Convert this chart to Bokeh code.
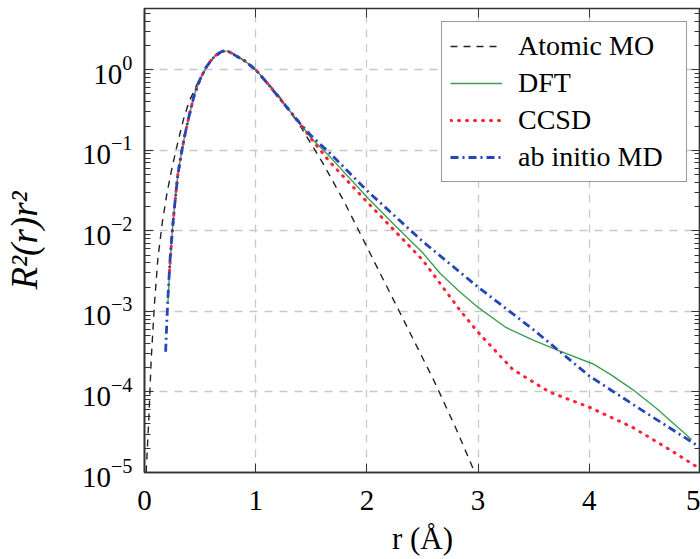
from bokeh.plotting import figure
from bokeh.models import Range1d, FixedTicker, LogAxis, LinearAxis, Legend, LegendItem
from bokeh.embed import file_html
from bokeh.resources import INLINE

# ---- data ----
atomic_r = [0.015, 0.04, 0.06, 0.09, 0.12, 0.16, 0.2, 0.25, 0.3, 0.35, 0.4, 0.45, 0.5, 0.6,
            0.7, 0.75, 0.8, 0.9, 1.0, 1.2, 1.4, 1.6, 1.8, 2.0, 2.2, 2.4, 2.6, 2.8, 2.97]
atomic_y = [1.0e-5, 5.0e-5, 2.5e-4, 1.26e-3, 4.47e-3, 1.26e-2, 2.82e-2, 6.31e-2, 0.126, 0.24,
            0.398, 0.562, 0.794, 1.29, 1.68, 1.70, 1.58, 1.29, 1.0, 0.49, 0.2, 0.0708, 0.0224,
            6.31e-3, 1.78e-3, 5.01e-4, 1.41e-4, 3.55e-5, 1.0e-5]

dft_r = [0.21, 0.23, 0.25, 0.27, 0.3, 0.33, 0.36, 0.4, 0.45, 0.5, 0.55, 0.6, 0.65, 0.7, 0.75,
         0.8, 0.9, 1.0, 1.1, 1.2, 1.3, 1.4, 1.5, 1.67, 2.0, 2.25, 2.5, 2.66, 2.83, 3.0, 3.25,
         3.5, 3.73, 4.03, 4.2, 4.39, 4.6, 4.92]
dft_y = [1.26e-3, 3.98e-3, 1.0e-2, 2.0e-2, 5.01e-2, 8.91e-2, 0.148, 0.263, 0.501, 0.759, 1.05,
         1.32, 1.55, 1.70, 1.70, 1.55, 1.29, 1.0, 0.692, 0.468, 0.316, 0.214, 0.141, 8.22e-2,
         2.63e-2, 1.17e-2, 5.37e-3, 2.95e-3, 1.78e-3, 1.12e-3, 6.31e-4, 4.37e-4, 3.24e-4,
         2.24e-4, 1.62e-4, 1.07e-4, 6.31e-5, 2.57e-5]

ccsd_r = [0.225, 0.24, 0.25, 0.27, 0.3, 0.33, 0.36, 0.4, 0.45, 0.5, 0.55, 0.6, 0.65, 0.7, 0.75,
          0.8, 0.9, 1.0, 1.1, 1.2, 1.3, 1.4, 1.5, 1.67, 2.0, 2.25, 2.5, 2.84, 3.0, 3.31, 3.64,
          4.0, 4.39, 4.74, 5.0]
ccsd_y = [3.16e-3, 6.31e-3, 1.0e-2, 2.0e-2, 5.01e-2, 8.91e-2, 0.148, 0.263, 0.501, 0.759, 1.05,
          1.32, 1.55, 1.70, 1.70, 1.55, 1.29, 1.0, 0.692, 0.468, 0.316, 0.214, 0.138, 7.08e-2,
          2.29e-2, 1.0e-2, 4.37e-3, 1.02e-3, 5.5e-4, 1.91e-4, 1.0e-4, 6.46e-5, 3.63e-5,
          1.86e-5, 1.1e-5]

md_r = [0.19, 0.2, 0.21, 0.23, 0.25, 0.27, 0.3, 0.33, 0.36, 0.4, 0.45, 0.5, 0.55, 0.6, 0.65,
        0.7, 0.75, 0.8, 0.9, 1.0, 1.1, 1.2, 1.3, 1.4, 1.5, 1.67, 2.0, 2.5, 3.0, 3.5, 4.0, 4.5, 5.0]
md_y = [3.16e-4, 7.08e-4, 1.41e-3, 4.47e-3, 1.0e-2, 2.0e-2, 5.01e-2, 8.91e-2, 0.148, 0.263,
        0.501, 0.759, 1.05, 1.32, 1.55, 1.70, 1.70, 1.55, 1.29, 1.0, 0.692, 0.468, 0.316, 0.214,
        0.151, 9.12e-2, 3.16e-2, 7.41e-3, 2.0e-3, 5.89e-4, 1.58e-4, 5.62e-5, 2.04e-5]

series_labels = ["Atomic MO", "DFT", "CCSD", "ab initio MD"]
x_ticks = [0, 1, 2, 3, 4, 5]
y_ticks = [1e-5, 1e-4, 1e-3, 1e-2, 1e-1, 1e0]
y_minor = [m * 10.0 ** k for k in range(-5, 1) for m in range(2, 10) if m * 10.0 ** k < 5.75]

FONT = "Liberation Serif"
AX = "#333333"

p = figure(width=700, height=559, y_axis_type="log",
           x_range=Range1d(0, 5), y_range=Range1d(1e-5, 5.75),
           output_backend="svg", toolbar_location=None,
           min_border_left=143, min_border_right=0, min_border_top=8, min_border_bottom=87,
           background_fill_color="white", border_fill_color="white")

p.outline_line_color = AX
p.outline_line_width = 1.6

xt = FixedTicker(ticks=x_ticks)
yt = FixedTicker(ticks=y_ticks, minor_ticks=y_minor)

for ax in p.xaxis:
    ax.ticker = xt
    ax.major_tick_in = 9
    ax.major_tick_out = 0
    ax.minor_tick_in = 0
    ax.minor_tick_out = 0
    ax.axis_line_color = AX
    ax.axis_line_width = 1.6
    ax.major_tick_line_color = AX
    ax.major_label_text_font = FONT
    ax.major_label_text_font_size = "29px"
    ax.major_label_text_color = "black"
    ax.major_label_standoff = 18
    ax.axis_label = "r (Å)"
    ax.axis_label_text_font = FONT
    ax.axis_label_text_font_size = "31px"
    ax.axis_label_text_font_style = "normal"
    ax.axis_label_text_color = "black"
    ax.axis_label_standoff = 8

for ax in p.yaxis:
    ax.ticker = yt
    ax.major_tick_in = 9
    ax.major_tick_out = 0
    ax.minor_tick_in = 6
    ax.minor_tick_out = 0
    ax.axis_line_color = AX
    ax.axis_line_width = 1.6
    ax.major_tick_line_color = AX
    ax.minor_tick_line_color = AX
    ax.major_label_text_font = FONT
    ax.major_label_text_font_size = "29px"
    ax.major_label_text_color = "black"
    ax.major_label_standoff = 12
    ax.axis_label = "R²(r)r²"
    ax.axis_label_text_font = FONT
    ax.axis_label_text_font_size = "37px"
    ax.axis_label_text_font_style = "italic"
    ax.axis_label_text_color = "black"
    ax.axis_label_standoff = 34

top = LinearAxis(ticker=xt, major_tick_in=9, major_tick_out=0, minor_tick_in=0, minor_tick_out=0,
                 major_label_text_font_size="1px", major_label_text_alpha=0,
                 major_label_standoff=0,
                 axis_line_color=AX, major_tick_line_color=AX)
right = LogAxis(ticker=yt, major_tick_in=9, major_tick_out=0, minor_tick_in=6, minor_tick_out=0,
                major_label_text_font_size="1px", major_label_text_alpha=0,
                major_label_standoff=0,
                axis_line_color=AX, major_tick_line_color=AX, minor_tick_line_color=AX)
p.add_layout(top, "above")
p.add_layout(right, "right")

for g in (p.xgrid[0], p.ygrid[0]):
    g.grid_line_color = "#c8c8c8"
    g.grid_line_dash = "8 7"
    g.grid_line_width = 1.3
p.xgrid[0].ticker = xt
p.ygrid[0].ticker = yt

r1 = p.line(atomic_r, atomic_y, line_color="#222222", line_width=1.4, line_dash="7 6")
r2 = p.line(dft_r, dft_y, line_color="#3e9e55", line_width=1.4)
r3 = p.line(ccsd_r, ccsd_y, line_color="#ff2238", line_width=3, line_dash="1 7", line_cap="round")
r4 = p.line(md_r, md_y, line_color="#2446b8", line_width=2.8, line_dash="8 4 2 4")

legend = Legend(items=[LegendItem(label=series_labels[0], renderers=[r1]),
                       LegendItem(label=series_labels[1], renderers=[r2]),
                       LegendItem(label=series_labels[2], renderers=[r3]),
                       LegendItem(label=series_labels[3], renderers=[r4])],
                location="top_right", margin=13, padding=8, spacing=5,
                glyph_width=52, glyph_height=32, label_height=32, label_width=160,
                label_standoff=16,
                label_text_font=FONT, label_text_font_size="28px",
                label_text_color="black",
                border_line_color=AX, border_line_width=1.8,
                background_fill_color="white", background_fill_alpha=1.0)
p.add_layout(legend, "center")

open("out.html", "w").write(file_html(p, INLINE))
